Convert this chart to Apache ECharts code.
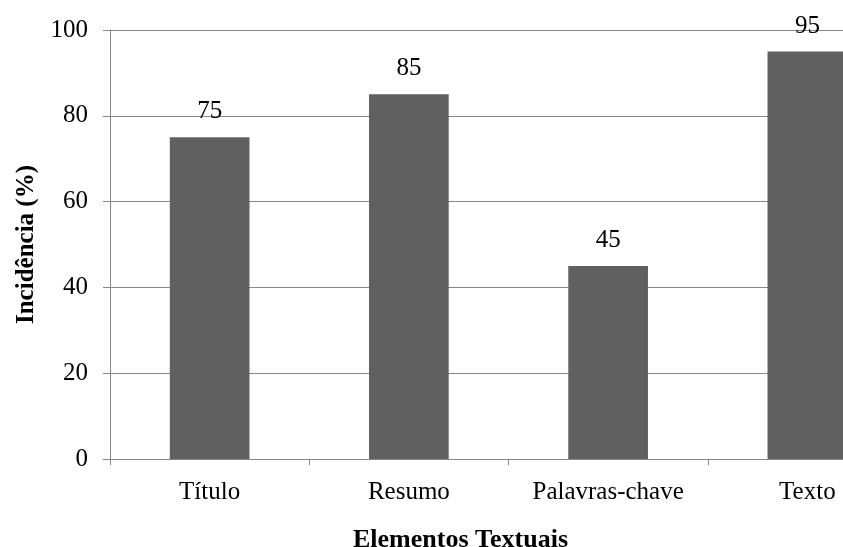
<!DOCTYPE html>
<html><head><meta charset="utf-8">
<script src="https://cdn.jsdelivr.net/npm/echarts@6/dist/echarts.min.js"></script>
<style>html,body{margin:0;padding:0;background:#fff}#c{width:843px;height:547px}</style>
</head><body><div id="c"></div>
<script>
const categories = ['Título', 'Resumo', 'Palavras-chave', 'Texto'];
const values = [75, 85, 45, 95];
const yTicks = [0, 20, 40, 60, 80, 100];

const font = '"Liberation Serif","Times New Roman",serif';
const chart = echarts.init(document.getElementById('c'));
chart.setOption({
  animation: false,
  grid: { left: 110, top: 30, width: 797, height: 429, containLabel: false, outerBoundsMode: 'none' },
  xAxis: {
    type: 'category', data: categories,
    name: 'Elementos Textuais', nameLocation: 'middle', nameGap: 68,
    nameTextStyle: { fontFamily: font, fontSize: 26, fontWeight: 'bold', color: '#000', padding: [0, 96, 0, 0] },
    axisLine: { lineStyle: { color: '#888', width: 1 } },
    axisTick: { show: true, length: 6, lineStyle: { color: '#888' } },
    axisLabel: { fontFamily: font, fontSize: 25, color: '#000', margin: 21, interval: 0, hideOverlap: false }
  },
  yAxis: {
    type: 'value', min: yTicks[0], max: yTicks[yTicks.length - 1], interval: 20,
    name: 'Incidência (%)', nameLocation: 'middle', nameGap: 71,
    nameTextStyle: { fontFamily: font, fontSize: 25, fontWeight: 'bold', color: '#000' },
    axisLine: { show: true, lineStyle: { color: '#888', width: 1 } },
    axisTick: { show: true, length: 7, lineStyle: { color: '#888' } },
    axisLabel: { fontFamily: font, fontSize: 25, color: '#000', margin: 22 },
    splitLine: { lineStyle: { color: '#888', width: 1 } }
  },
  series: [{
    type: 'bar', data: values, barWidth: '40%',
    itemStyle: { color: '#606060' },
    label: { show: true, position: 'top', distance: 13, fontFamily: font, fontSize: 25, color: '#000' }
  }]
});
</script></body></html>
